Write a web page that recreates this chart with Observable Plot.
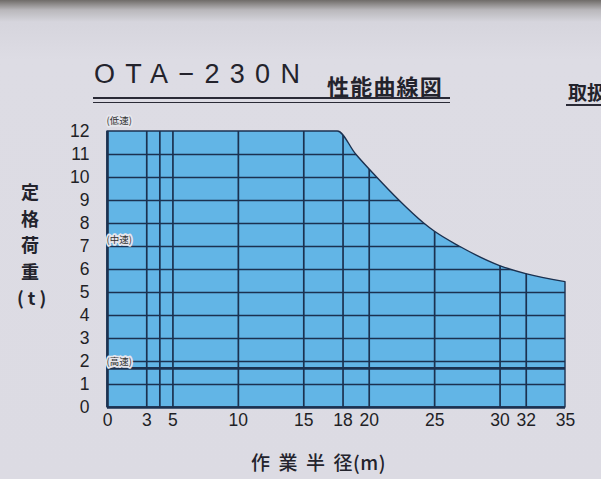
<!DOCTYPE html>
<html><head><meta charset="utf-8">
<script src="https://cdn.jsdelivr.net/npm/d3@7"></script>
<script src="https://cdn.jsdelivr.net/npm/@observablehq/plot@0.6"></script>
<style>
body{margin:0;background:#dcdbe3;}
#wrap{position:relative;width:601px;height:479px;overflow:hidden;
  background:linear-gradient(180deg,#6f6b68 0px,#b9b7bb 10px,#d6d5dd 22px,#dddce4 60px,#dcdbe3 100%);}
#wrap svg{position:absolute;left:0;top:0;}
.t{position:absolute;white-space:nowrap;color:#1d1d24;line-height:1;}
</style></head><body><div id="wrap"></div>
<script>
// capacity curve (working radius m -> rated load t)
const radius = [0, 17.6, 19, 20.6, 22.3, 24.2, 25, 26.9, 30, 32, 35];
const load   = [12, 12, 11, 10, 9, 8, 7.65, 7, 6.15, 5.8, 5.45];
const xTicks = [0, 3, 5, 10, 15, 18, 20, 25, 30, 32, 35];
const xGrid  = [3, 4, 5, 10, 15, 18, 20, 25, 30, 32];
const yTicks = [0, 1, 2, 3, 4, 5, 6, 7, 8, 9, 10, 11, 12];
const yGrid  = [1, 2, 3, 4, 5, 6, 7, 8, 9, 10, 11];
const highSpeedLoad = 1.7;
const speedNames = ["(低速)", "(中速)", "(高速)"];
const speedLoads = [12.45, 7.3, 2.0];
const titleModel = "OTA−230N";
const titleText = "性能曲線図";
const sideText = "取扱";
const yLabelChars = ["定", "格", "荷", "重", "(t)"];
const xLabelParts = ["作業半", "径(m)"];

const curve = radius.map((r, i) => ({r, t: load[i]}));
const speeds = speedNames.map((n, i) => ({n, t: speedLoads[i]}));
const ink = "#1b3150";

const chart = Plot.plot({
  width: 601, height: 479,
  marginLeft: 107, marginRight: 36, marginTop: 131, marginBottom: 72,
  style: {background: "transparent", fontFamily: "'Liberation Sans Narrow', 'Liberation Sans', Arial, sans-serif", fontSize: "17.5px", color: "#1f1f26", overflow: "visible"},
  x: {domain: [0, 35], ticks: xTicks, label: null, tickSize: 0, tickPadding: 6},
  y: {domain: [0, 12], ticks: yTicks, label: null, tickSize: 0, tickPadding: 18},
  marks: [
    Plot.areaY(curve, {x: "r", y: "t", fill: "#62b5e6", curve: "monotone-x"}),
    Plot.ruleX(xGrid, {y1: 0, y2: 12, stroke: ink, strokeWidth: 1.7}),
    Plot.ruleY(yGrid, {x1: 0, x2: 35, stroke: ink, strokeWidth: 1.7}),
    Plot.ruleY([highSpeedLoad], {x1: 0, x2: 35, stroke: ink, strokeWidth: 2.6}),
    Plot.areaY(curve, {x: "r", y: "t", fill: "none", stroke: ink, strokeWidth: 1.4, curve: "monotone-x"}),
    Plot.ruleX([0], {y1: 0, y2: 12, stroke: ink, strokeWidth: 2.6}),
    Plot.ruleY([0], {x1: 0, x2: 35, stroke: ink, strokeWidth: 2.6}),
    Plot.text(speeds, {x: 0, y: "t", text: "n", textAnchor: "start", dx: -1, fontSize: 9.5, fill: "#333",
      fontFamily: "'Noto Sans CJK JP', sans-serif",
      stroke: "#e6e6ec", strokeWidth: 3.5, paintOrder: "stroke"})
  ]
});
const wrap = document.getElementById("wrap");
wrap.appendChild(chart);

// clip the grid to the filled capacity area
try {
  const svg = chart.tagName.toLowerCase() === "svg" ? chart : chart.querySelector("svg");
  const areaG = svg.querySelectorAll('g[aria-label="area"]')[0];
  const areaPath = areaG.querySelector("path");
  const ns = "http://www.w3.org/2000/svg";
  const defs = document.createElementNS(ns, "defs");
  const cp = document.createElementNS(ns, "clipPath");
  cp.setAttribute("id", "capclip");
  const cpp = document.createElementNS(ns, "path");
  cpp.setAttribute("d", areaPath.getAttribute("d"));
  if (areaG.getAttribute("transform")) cpp.setAttribute("transform", areaG.getAttribute("transform"));
  cp.appendChild(cpp); defs.appendChild(cp); svg.insertBefore(defs, svg.firstChild);
  const holder = document.createElementNS(ns, "g");
  holder.setAttribute("clip-path", "url(#capclip)");
  const rules = svg.querySelectorAll('g[aria-label="rule"]');
  const gx = rules[0], gy = rules[1];
  gx.parentNode.insertBefore(holder, gx);
  holder.appendChild(gx); holder.appendChild(gy);
} catch (e) { console.log(e); }

// titles and axis labels
function add(text, css) { const d = document.createElement("div"); d.className = "t"; d.textContent = text; Object.assign(d.style, css); wrap.appendChild(d); return d; }
const cjk = "'Noto Sans CJK JP', sans-serif";
add(titleModel, {left: "94px", top: "61px", fontFamily: "'Liberation Sans', Arial, sans-serif", fontSize: "27px", letterSpacing: "10.3px", color: "#23232c"});
add(titleText, {left: "327px", top: "74px", fontFamily: cjk, fontSize: "22px", fontWeight: "700", letterSpacing: "1.2px", color: "#23232c"});
add(sideText, {left: "568px", top: "82px", fontFamily: cjk, fontSize: "19px", fontWeight: "700", color: "#23232c"});
yLabelChars.forEach((c, i) => add(c, {left: c.length > 1 ? "17px" : "21px", top: (182 + i * 26.5) + "px", fontFamily: cjk, fontSize: "18px", fontWeight: "700", letterSpacing: c.length > 1 ? "4px" : "0", color: "#23232c"}));
const xl = add("", {left: "251px", top: "452px", fontFamily: cjk, fontSize: "19px", fontWeight: "500", color: "#23232c"});
const s1 = document.createElement("span"); s1.textContent = xLabelParts[0]; s1.style.letterSpacing = "8.5px";
const s2 = document.createElement("span"); s2.textContent = xLabelParts[1]; s2.style.letterSpacing = "0.5px";
xl.appendChild(s1); xl.appendChild(s2);
// double underline under title
[[97, 2.2], [101.5, 1.4]].forEach(([y, w]) => { const d = document.createElement("div"); Object.assign(d.style, {position: "absolute", left: "93px", width: "357px", top: y + "px", height: w + "px", background: "#2a2a36"}); wrap.appendChild(d); });
const u = document.createElement("div"); Object.assign(u.style, {position: "absolute", left: "566px", width: "40px", top: "104px", height: "2px", background: "#2a2a36"}); wrap.appendChild(u);
</script></body></html>
